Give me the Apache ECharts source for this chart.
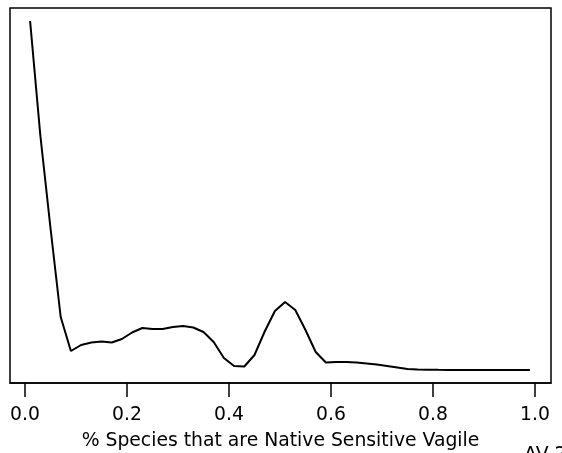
<!DOCTYPE html>
<html>
<head>
<meta charset="utf-8">
<script src="https://cdn.jsdelivr.net/npm/echarts@6/dist/echarts.min.js"></script>
<style>
html,body{margin:0;padding:0;background:#fff;}
#chart{width:562px;height:453px;}
</style>
</head>
<body>
<div id="chart"></div>
<script>
// Data
var xValues = [0.01,0.03,0.05,0.07,0.09,0.11,0.13,0.15,0.17,0.19,
               0.21,0.23,0.25,0.27,0.29,0.31,0.33,0.35,0.37,0.39,
               0.41,0.43,0.45,0.47,0.49,0.51,0.53,0.55,0.57,0.59,
               0.61,0.63,0.65,0.67,0.69,0.71,0.73,0.75,0.77,0.79,
               0.81,0.83,0.85,0.87,0.89,0.91,0.93,0.95,0.97,0.99];
var density = [6.98,4.70,2.84,1.06,0.38,0.50,0.55,0.57,0.55,0.62,
               0.75,0.84,0.82,0.82,0.86,0.88,0.85,0.76,0.56,0.24,
               0.08,0.07,0.30,0.77,1.18,1.36,1.20,0.80,0.36,0.15,
               0.16,0.16,0.15,0.13,0.11,0.08,0.05,0.02,0.01,0.005,
               0.003,0.002,0.001,0.0,0.0,0.0,0.0,0.0,0.0,0.0];
var tickValues = [0,0.2,0.4,0.6,0.8,1.0];
var xTitle = '% Species that are Native Sensitive Vagile';
var cornerText = 'AV 2';

var chart = echarts.init(document.getElementById('chart'), null, {renderer:'canvas'});
var font = 'DejaVu Sans, Liberation Sans, Arial, sans-serif';
var pts = xValues.map(function(x,i){return [x, density[i]];});
chart.setOption({
  animation:false,
  backgroundColor:'#fff',
  grid:{left:10,right:11,top:8,bottom:70,show:true,borderColor:'#000',borderWidth:1.5,backgroundColor:'transparent',
        containLabel:false,outerBoundsMode:'none'},
  xAxis:{
    type:'value', min:-0.0294, max:1.0314,
    splitLine:{show:false},
    axisLine:{show:true,onZero:false,lineStyle:{color:'#000',width:1.5}},
    axisTick:{show:true,length:14,inside:false,customValues:tickValues,lineStyle:{color:'#000',width:1.5}},
    axisLabel:{show:true,customValues:tickValues,margin:22.5,color:'#000',fontSize:18.8,fontFamily:font,
      formatter:function(v){return v.toFixed(1);}},
    name:xTitle, nameLocation:'middle', nameGap:49,
    nameTextStyle:{color:'#000',fontSize:18.8,fontFamily:font}
  },
  yAxis:{type:'value',min:-0.26,max:7.24,show:false,splitLine:{show:false}},
  graphic:[{type:'text',left:524,top:446,style:{text:cornerText,fill:'#000',fontSize:18.8,fontFamily:font}}],
  series:[{type:'line',data:pts,showSymbol:false,smooth:false,lineStyle:{color:'#000',width:2},silent:true}]
});
</script>
</body>
</html>
